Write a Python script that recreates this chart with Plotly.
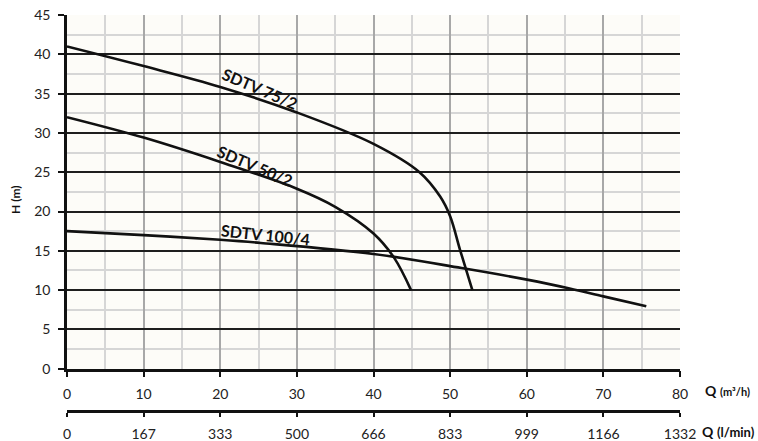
import plotly.graph_objects as go

# ---- data ----
q_75_2 = [0, 10, 20, 30, 40, 46, 48.7, 50, 51.3, 52.9]
h_75_2 = [41, 38.5, 35.85, 32.6, 28.6, 25.0, 21.9, 19.4, 15.1, 10]

q_50_2 = [0, 10, 20, 30, 35, 40, 42.7, 44.9]
h_50_2 = [32, 29.4, 26.3, 22.9, 20.6, 17.2, 14.1, 10]

q_100_4 = [0, 10, 20, 25.3, 40, 51.5, 60.2, 65.6, 70, 75.6]
h_100_4 = [17.5, 17.0, 16.4, 16.0, 14.6, 12.8, 11.3, 10.2, 9.2, 7.95]

curve_names = ["SDTV 75/2", "SDTV 50/2", "SDTV 100/4"]
label_q = [25.2, 24.5, 25.9]
label_h = [35.6, 25.8, 17.1]
label_angle = [23, 23, 6]

q_m3h_ticks = [0, 10, 20, 30, 40, 50, 60, 70, 80]
q_lmin_labels = ["0", "167", "333", "500", "666", "833", "999", "1166", "1332"]
h_ticks = [0, 5, 10, 15, 20, 25, 30, 35, 40, 45]

FONT = "Lato"
W, H = 758, 441
ML, MR, MT, MB = 67, 78, 15, 21
PH = H - MT - MB
y_bottom_px = 368.7
x2_px = 411
dom0 = (H - MB - y_bottom_px) / PH
x2pos = (H - MB - x2_px) / PH

fig = go.Figure()
for q, h in [(q_75_2, h_75_2), (q_50_2, h_50_2), (q_100_4, h_100_4)]:
    fig.add_trace(go.Scatter(x=q, y=h, mode="lines",
                             line=dict(color="#111111", width=2.6, shape="spline", smoothing=1.0),
                             showlegend=False, hoverinfo="skip"))

# helper trace for the l/min axis
fig.add_trace(go.Scatter(x=q_m3h_ticks, y=[None] * len(q_m3h_ticks), xaxis="x2",
                         mode="lines", showlegend=False, hoverinfo="skip"))

for name, qx, hy, ang in zip(curve_names, label_q, label_h, label_angle):
    fig.add_annotation(x=qx, y=hy, text="<b>" + name + "</b>", showarrow=False,
                       textangle=ang, font=dict(family=FONT, size=16, color="#111111"))

fig.add_annotation(xref="paper", yref="paper", x=1, xshift=23, xanchor="left",
                   y=(H - MB - 390) / PH, yanchor="middle", showarrow=False,
                   text="<b>Q</b> <b><span style='font-size:11px'>(m³/h)</span></b>",
                   font=dict(family=FONT, size=14, color="#111111"))
fig.add_annotation(xref="paper", yref="paper", x=1, xshift=20, xanchor="left",
                   y=(H - MB - 431) / PH, yanchor="middle", showarrow=False,
                   text="<b>Q</b> <b><span style='font-size:13px'>(l/min)</span></b>",
                   font=dict(family=FONT, size=14, color="#111111"))
fig.add_annotation(xref="paper", yref="paper", x=0, xshift=-52, xanchor="center",
                   y=(H - MB - 200) / PH, yanchor="middle", showarrow=False,
                   textangle=-90, text="<b>H (m)</b>",
                   font=dict(family=FONT, size=12, color="#111111"))

tickfont = dict(family=FONT, size=14, color="#222222")
fig.update_layout(
    width=W, height=H,
    margin=dict(l=ML, r=MR, t=MT, b=MB, autoexpand=False),
    paper_bgcolor="white", plot_bgcolor="#fdfcf8",
    xaxis=dict(range=[0, 80], tickvals=q_m3h_ticks, showgrid=True, automargin=False,
               gridcolor="#a8a8a8", gridwidth=1.5, zeroline=False,
               showline=True, linecolor="#111111", linewidth=2.5,
               ticks="outside", ticklen=6, tickcolor="#111111", tickwidth=1.5,
               ticklabelstandoff=5, tickfont=tickfont,
               minor=dict(dtick=5, showgrid=True, gridcolor="#d6d6d6", gridwidth=1.5)),
    xaxis2=dict(range=[0, 80], overlaying="x", anchor="free", position=x2pos,
                side="bottom", tickvals=q_m3h_ticks, ticktext=q_lmin_labels,
                showgrid=False, zeroline=False, showline=True, automargin=False,
                linecolor="#111111", linewidth=2.5, ticks="outside", ticklen=4,
                tickcolor="#111111", tickwidth=1.5, ticklabelstandoff=5,
                tickfont=tickfont),
    yaxis=dict(range=[0, 45], domain=[dom0, 1], tickvals=h_ticks, showgrid=True,
               automargin=False,
               gridcolor="#1e1e1e", gridwidth=1.5, zeroline=False,
               showline=True, linecolor="#111111", linewidth=2.5,
               ticks="outside", ticklen=6, tickcolor="#111111", tickwidth=1.5,
               ticklabelstandoff=5, tickfont=tickfont,
               minor=dict(dtick=2.5, showgrid=True, gridcolor="#d6d6d6", gridwidth=1.5)),
)

fig.write_html("out.html", config={"displayModeBar": False},
               post_script="document.body.style.margin='0';document.body.style.overflow='hidden';")
